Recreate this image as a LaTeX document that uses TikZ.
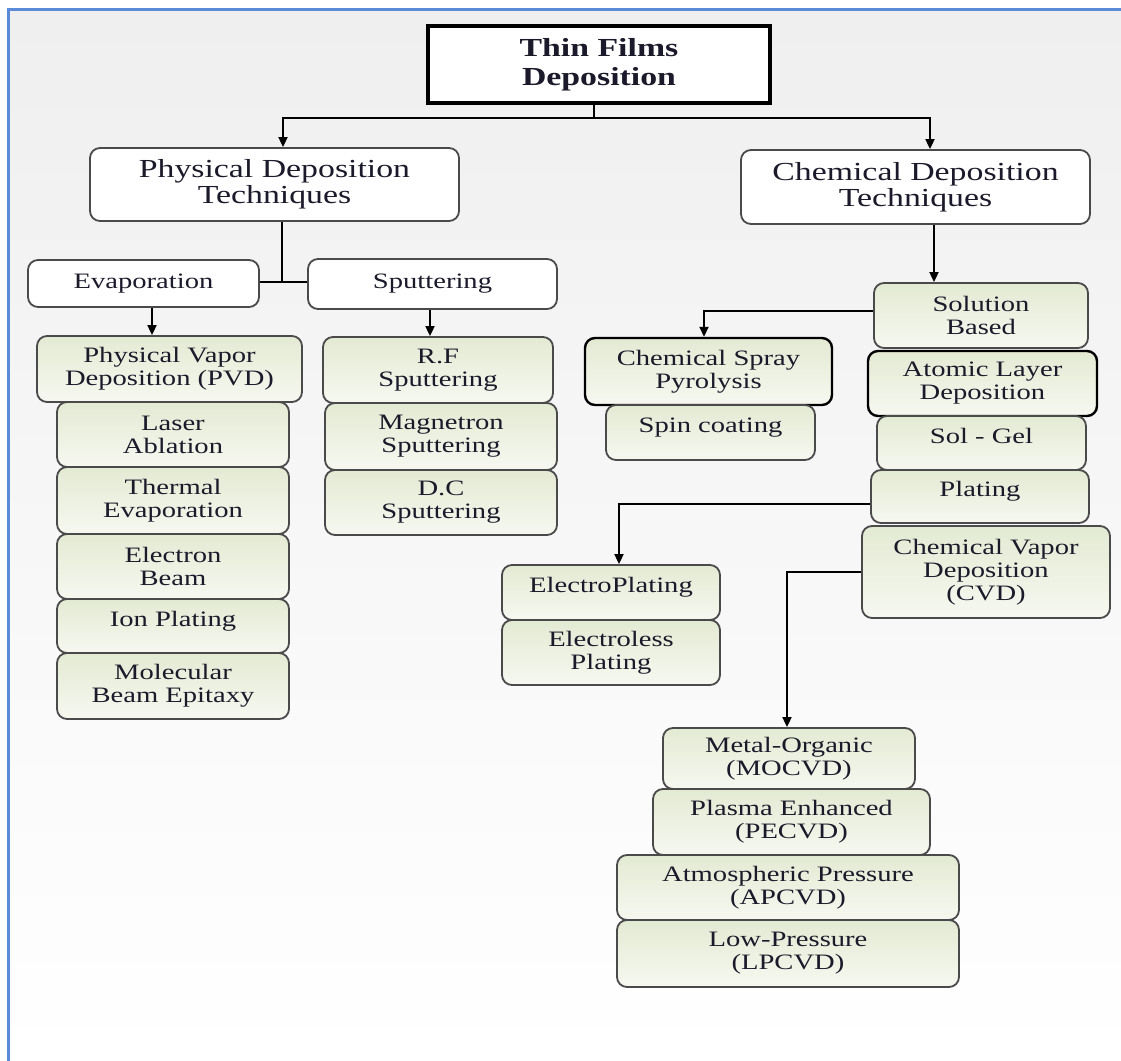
\documentclass[tikz,border=0pt]{standalone}
\usepackage{fontspec}
\setmainfont{Liberation Serif}[FakeStretch=1.3]
\usetikzlibrary{arrows.meta}
\definecolor{bord}{HTML}{4A4A4A}
\definecolor{gtop}{HTML}{E3EAD3}
\definecolor{gbot}{HTML}{F6F8F0}
\definecolor{txt}{HTML}{1A1A2A}
\definecolor{bluel}{HTML}{5B8BD8}
\definecolor{bgtop}{HTML}{EFEFEF}
\newcommand\fn{\fontsize{11pt}{11.5pt}\selectfont}
\newcommand\fh{\fontsize{13pt}{13pt}\selectfont}
\newcommand\ft{\fontsize{13pt}{14.5pt}\selectfont\bfseries}
\newcommand\B[7]{\node[#1, minimum width={(#4-#3)*0.5pt}, minimum height={(#6-#5)*0.5pt}] (#2) at ({(#3+#4)/2},{(#5+#6)/2}) {#7};}
\tikzset{
  base/.style={rounded corners=5pt, align=center, inner sep=0pt, text=txt, font=\fn},
  gbox/.style={base, draw=bord, line width=0.9pt, top color=gtop, bottom color=gbot},
  gboxk/.style={gbox, draw=black, line width=1.2pt},
  wbox/.style={base, draw=bord, line width=0.9pt, fill=white},
  hbox/.style={wbox, font=\fh},
  tbox/.style={draw=black, line width=2pt, fill=white, align=center, inner sep=0pt, text=txt, font=\ft},
  conn/.style={line width=0.9pt, draw=black},
  arr/.style={conn, -{Triangle[length=5pt,width=4.5pt]}}
}
\begin{document}
\begin{tikzpicture}[x=0.5pt,y=-0.5pt]
\useasboundingbox (0,0) rectangle (1121,1061);
\fill[white] (0,0) rectangle (1121,1061);
\shade[top color=bgtop, bottom color=white] (8,9) rectangle (1121,1061);
\draw[bluel, line width=1.9pt] (8.5,1061) -- (8.5,9.5) -- (1121,9.5);

% title and main branches
\B{tbox}{title}{428}{770}{26}{103}{Thin Films\\Deposition}
\B{hbox}{phys}{90}{459}{148}{221}{Physical Deposition\\Techniques}
\B{hbox}{chem}{741}{1090}{150}{224}{Chemical Deposition\\Techniques}

% physical side
\B{wbox}{evap}{28}{259}{260}{307}{Evaporation}
\B{wbox}{sput}{308}{557}{259}{309}{Sputtering}
\B{gbox}{pvd}{37}{302}{336}{402}{Physical Vapor\\Deposition (PVD)}
\B{gbox}{laser}{57}{289}{402}{467}{Laser\\Ablation}
\B{gbox}{thermal}{57}{289}{467}{534}{Thermal\\Evaporation}
\B{gbox}{ebeam}{57}{289}{534}{599}{Electron\\Beam}
\B{gbox}{ion}{57}{289}{599}{653}{\smash{Ion Plating}}
\B{gbox}{mbe}{57}{289}{653}{719}{Molecular\\Beam Epitaxy}
\B{gbox}{rf}{323}{553}{337}{403}{R.F\\Sputtering}
\B{gbox}{mag}{325}{557}{403}{470}{Magnetron\\Sputtering}
\B{gbox}{dc}{325}{557}{470}{535}{D.C\\Sputtering}

% chemical side
\B{gbox}{sol}{874}{1088}{283}{348}{Solution\\Based}
\B{gboxk}{spray}{585}{832}{338}{405}{Chemical Spray\\Pyrolysis}
\B{gbox}{spin}{606}{815}{405}{460}{\smash{Spin coating}}
\B{gboxk}{ald}{868}{1097}{351}{416}{Atomic Layer\\Deposition}
\B{gbox}{solgel}{877}{1086}{416}{470}{\smash{Sol - Gel}}
\B{gbox}{plat}{871}{1089}{470}{523}{\smash{Plating}}
\B{gbox}{cvd}{862}{1110}{526}{618}{Chemical Vapor\\Deposition\\(CVD)}
\B{gbox}{eplat}{502}{720}{565}{620}{\smash{ElectroPlating}}
\B{gbox}{eless}{502}{720}{620}{685}{Electroless\\Plating}
\B{gbox}{mocvd}{663}{915}{728}{789}{Metal-Organic\\(MOCVD)}
\B{gbox}{pecvd}{653}{930}{789}{855}{Plasma Enhanced\\(PECVD)}
\B{gbox}{apcvd}{617}{959}{855}{920}{Atmospheric Pressure\\(APCVD)}
\B{gbox}{lpcvd}{617}{959}{920}{987}{Low-Pressure\\(LPCVD)}

% connectors
\coordinate (j1) at (594,118);
\draw[conn] (594,0 |- title.south) -- (j1);
\draw[arr] (j1) -| (283,0 |- phys.north);
\draw[arr] (j1) -| (930,0 |- chem.north);
\coordinate (j2) at (282,282);
\draw[conn] (282,0 |- phys.south) -- (j2);
\draw[conn] (j2 -| evap.east) -- (j2 -| sput.west);
\draw[arr] (152,0 |- evap.south) -- (152,0 |- pvd.north);
\draw[arr] (430,0 |- sput.south) -- (430,0 |- rf.north);
\draw[arr] (934,0 |- chem.south) -- (934,0 |- sol.north);
\coordinate (j3) at (704,311);
\draw[arr] (j3 -| sol.west) -- (j3) -- (j3 |- spray.north);
\coordinate (j4) at (619,504);
\draw[arr] (j4 -| plat.west) -- (j4) -- (j4 |- eplat.north);
\coordinate (j5) at (787,572);
\draw[arr] (j5 -| cvd.west) -- (j5) -- (j5 |- mocvd.north);
\end{tikzpicture}
\end{document}
